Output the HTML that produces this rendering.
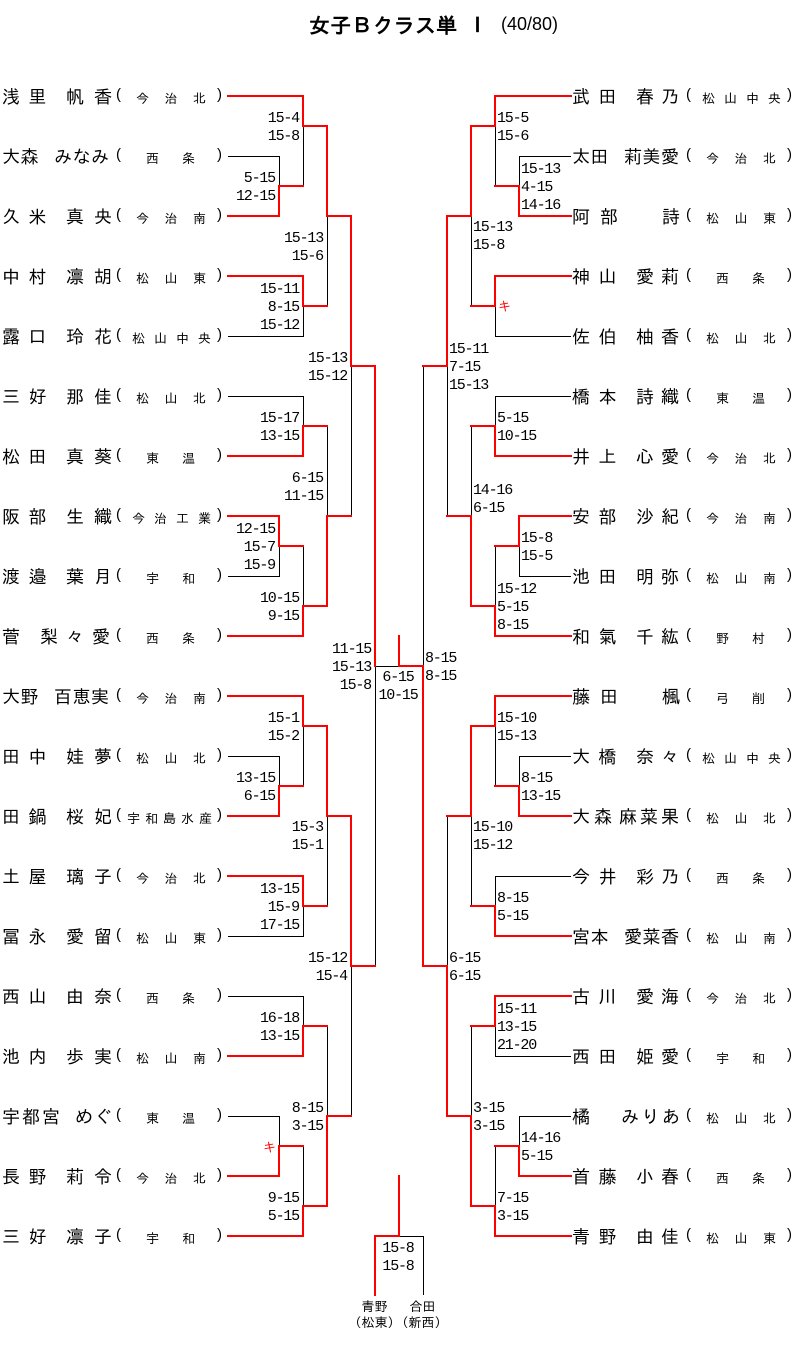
<!DOCTYPE html>
<html lang="ja">
<head>
<meta charset="utf-8">
<style>
html,body{margin:0;padding:0;background:#fff;}
body{width:799px;height:1352px;position:relative;overflow:hidden;font-family:"Liberation Sans","IPAGothic",sans-serif;color:#000;}
svg{position:absolute;left:0;top:0;}
.r{position:absolute;left:0;width:230px;height:18px;}
.R{left:570px;}
.r span{position:absolute;white-space:nowrap;}
.f{left:2px;top:1px;font-size:18px;line-height:18px;letter-spacing:8.5px;}
.g{left:66px;top:1px;font-size:18px;line-height:18px;letter-spacing:10px;}
.R .g{letter-spacing:7px;}
.p1,.p2{top:1px;font-size:15px;line-height:14px;}
.p1{left:116px;}
.p2{left:217px;}
.s{top:4.5px;font-size:13px;line-height:13px;}
.s2{left:146px;letter-spacing:23px;}
.s3{left:136px;letter-spacing:15.5px;}
.s4{left:132px;letter-spacing:9px;}
.s5{left:127px;letter-spacing:5px;}
.l,.m,.c{position:absolute;font-family:"Liberation Mono",monospace;font-size:15px;line-height:18px;letter-spacing:-1.2px;white-space:nowrap;}
.l{text-align:right;}
.m{text-align:left;}
.c{text-align:center;width:60px;}
.k{position:absolute;color:#ff0000;font-size:13px;line-height:13px;}
.b{position:absolute;width:60px;text-align:center;font-size:13px;line-height:13px;white-space:nowrap;}
.t{position:absolute;white-space:nowrap;}
</style>
</head>
<body>

<div class="t" style="left:309px;top:16px;font-size:21px;line-height:21px;font-weight:bold;letter-spacing:0.2px;">女子Ｂクラス単</div>
<div class="t" style="left:467px;top:16px;font-size:21px;line-height:21px;font-weight:bold;">Ⅰ</div>
<div class="t" style="left:501px;top:15px;font-size:18px;line-height:18px;">(40/80)</div>

<svg width="799" height="1352" viewBox="0 0 799 1352" xmlns="http://www.w3.org/2000/svg">
<path fill="none" stroke="#000" stroke-width="1" d="
M228 156.5H280 M228 336.5H304 M228 396.5H304 M228 576.5H280 M228 756.5H280 M228 936.5H304 M228 996.5H304 M228 1116.5H280
M279.5 156V186 M279.5 546V576 M279.5 756V786 M279.5 1116V1146
M303.5 126V186 M303.5 306V336 M303.5 396V426 M303.5 546V606 M303.5 726V786 M303.5 906V936 M303.5 996V1026 M303.5 1146V1206
M327.5 216V306 M327.5 426V516 M327.5 816V906 M327.5 1026V1116
M351.5 366V516 M351.5 966V1116
M375.5 666V966
M375 666.5H399
M519 156.5H571 M495 336.5H571 M495 396.5H571 M519 576.5H571 M519 756.5H571 M495 876.5H571 M495 1056.5H571 M519 1116.5H571
M495.5 126V186 M495.5 306V336 M495.5 396V426 M495.5 546V606 M495.5 726V786 M495.5 876V906 M495.5 1026V1056 M495.5 1146V1206
M519.5 156V186 M519.5 546V576 M519.5 756V786 M519.5 1116V1146
M471.5 216V306 M471.5 426V516 M471.5 816V906 M471.5 1026V1116
M447.5 366V516 M447.5 816V966
M423.5 366V666
M399 1236.5H424 M423.5 1236V1295
"/>
<path fill="none" stroke="#ff0000" stroke-width="2" stroke-linecap="square" d="
M228 96H303 M228 216H279 M228 276H303 M228 456H303 M228 516H279 M228 636H303 M228 696H303 M228 816H279 M228 876H303 M228 1056H303 M228 1176H279 M228 1236H303
M279 186V216 M279 186H303
M303 96V126 M303 126H327
M303 276V306 M303 306H327
M327 126V216 M327 216H351
M303 426V456 M303 426H327
M279 516V546 M279 546H303
M303 606V636 M303 606H327
M327 516V606 M327 516H351
M351 216V366 M351 366H375
M375 366V666
M399 666H423 M399 636V666
M303 696V726 M303 726H327
M279 786V816 M279 786H303
M303 876V906 M303 906H327
M327 726V816 M327 816H351
M303 1026V1056 M303 1026H327
M279 1146V1176 M279 1146H303
M303 1206V1236 M303 1206H327
M327 1116V1206 M327 1116H351
M351 816V966 M351 966H375
M495 96H571 M519 216H571 M495 276H571 M495 456H571 M519 516H571 M495 636H571 M495 696H571 M519 816H571 M495 936H571 M495 996H571 M519 1176H571 M495 1236H571
M495 96V126 M471 126H495
M519 186V216 M495 186H519
M495 276V306 M471 306H495
M471 126V216 M447 216H471
M495 426V456 M471 426H495
M519 516V546 M495 546H519
M495 606V636 M471 606H495
M471 516V606 M447 516H471
M447 216V366 M423 366H447
M423 666V966
M495 696V726 M471 726H495
M519 786V816 M495 786H519
M495 906V936 M471 906H495
M471 726V816 M447 816H471
M495 996V1026 M471 1026H495
M519 1146V1176 M495 1146H519
M495 1206V1236 M471 1206H495
M471 1116V1206 M447 1116H471
M447 966V1116 M423 966H447
M399 1176V1236 M375 1236H399 M375 1236V1295
"/>
</svg>

<!-- Left players -->
<div class="r" style="top:87px"><span class="f">浅里</span><span class="g">帆香</span><span class="p1">(</span><span class="s s3">今治北</span><span class="p2">)</span></div>
<div class="r" style="top:147px"><span class="f" style="letter-spacing:0.5px">大森</span><span class="g" style="left:54px;letter-spacing:0.5px">みなみ</span><span class="p1">(</span><span class="s s2">西条</span><span class="p2">)</span></div>
<div class="r" style="top:207px"><span class="f">久米</span><span class="g">真央</span><span class="p1">(</span><span class="s s3">今治南</span><span class="p2">)</span></div>
<div class="r" style="top:267px"><span class="f">中村</span><span class="g">凛胡</span><span class="p1">(</span><span class="s s3">松山東</span><span class="p2">)</span></div>
<div class="r" style="top:327px"><span class="f">露口</span><span class="g">玲花</span><span class="p1">(</span><span class="s s4">松山中央</span><span class="p2">)</span></div>
<div class="r" style="top:387px"><span class="f">三好</span><span class="g">那佳</span><span class="p1">(</span><span class="s s3">松山北</span><span class="p2">)</span></div>
<div class="r" style="top:447px"><span class="f">松田</span><span class="g">真葵</span><span class="p1">(</span><span class="s s2">東温</span><span class="p2">)</span></div>
<div class="r" style="top:507px"><span class="f">阪部</span><span class="g">生織</span><span class="p1">(</span><span class="s s4">今治工業</span><span class="p2">)</span></div>
<div class="r" style="top:567px"><span class="f">渡邉</span><span class="g">葉月</span><span class="p1">(</span><span class="s s2">宇和</span><span class="p2">)</span></div>
<div class="r" style="top:627px"><span class="f">菅</span><span class="g" style="left:40px;letter-spacing:8px">梨々愛</span><span class="p1">(</span><span class="s s2">西条</span><span class="p2">)</span></div>
<div class="r" style="top:687px"><span class="f" style="letter-spacing:0.5px">大野</span><span class="g" style="left:54px;letter-spacing:0.5px">百恵実</span><span class="p1">(</span><span class="s s3">今治南</span><span class="p2">)</span></div>
<div class="r" style="top:747px"><span class="f">田中</span><span class="g">娃夢</span><span class="p1">(</span><span class="s s3">松山北</span><span class="p2">)</span></div>
<div class="r" style="top:807px"><span class="f">田鍋</span><span class="g">桜妃</span><span class="p1">(</span><span class="s s5">宇和島水産</span><span class="p2">)</span></div>
<div class="r" style="top:867px"><span class="f">土屋</span><span class="g">璃子</span><span class="p1">(</span><span class="s s3">今治北</span><span class="p2">)</span></div>
<div class="r" style="top:927px"><span class="f">冨永</span><span class="g">愛留</span><span class="p1">(</span><span class="s s3">松山東</span><span class="p2">)</span></div>
<div class="r" style="top:987px"><span class="f">西山</span><span class="g">由奈</span><span class="p1">(</span><span class="s s2">西条</span><span class="p2">)</span></div>
<div class="r" style="top:1047px"><span class="f">池内</span><span class="g">歩実</span><span class="p1">(</span><span class="s s3">松山南</span><span class="p2">)</span></div>
<div class="r" style="top:1107px"><span class="f" style="letter-spacing:2px">宇都宮</span><span class="g" style="left:75px;letter-spacing:1px">めぐ</span><span class="p1">(</span><span class="s s2">東温</span><span class="p2">)</span></div>
<div class="r" style="top:1167px"><span class="f">長野</span><span class="g">莉令</span><span class="p1">(</span><span class="s s3">今治北</span><span class="p2">)</span></div>
<div class="r" style="top:1227px"><span class="f">三好</span><span class="g">凛子</span><span class="p1">(</span><span class="s s2">宇和</span><span class="p2">)</span></div>

<!-- Right players -->
<div class="r R" style="top:87px"><span class="f">武田</span><span class="g">春乃</span><span class="p1">(</span><span class="s s4">松山中央</span><span class="p2">)</span></div>
<div class="r R" style="top:147px"><span class="f" style="letter-spacing:0.5px">太田</span><span class="g" style="left:54px;letter-spacing:0.5px">莉美愛</span><span class="p1">(</span><span class="s s3">今治北</span><span class="p2">)</span></div>
<div class="r R" style="top:207px"><span class="f" style="letter-spacing:10px">阿部</span><span class="g" style="left:92px">詩</span><span class="p1">(</span><span class="s s3">松山東</span><span class="p2">)</span></div>
<div class="r R" style="top:267px"><span class="f">神山</span><span class="g">愛莉</span><span class="p1">(</span><span class="s s2">西条</span><span class="p2">)</span></div>
<div class="r R" style="top:327px"><span class="f">佐伯</span><span class="g">柚香</span><span class="p1">(</span><span class="s s3">松山北</span><span class="p2">)</span></div>
<div class="r R" style="top:387px"><span class="f">橋本</span><span class="g">詩織</span><span class="p1">(</span><span class="s s2">東温</span><span class="p2">)</span></div>
<div class="r R" style="top:447px"><span class="f">井上</span><span class="g">心愛</span><span class="p1">(</span><span class="s s3">今治北</span><span class="p2">)</span></div>
<div class="r R" style="top:507px"><span class="f">安部</span><span class="g">沙紀</span><span class="p1">(</span><span class="s s3">今治南</span><span class="p2">)</span></div>
<div class="r R" style="top:567px"><span class="f">池田</span><span class="g">明弥</span><span class="p1">(</span><span class="s s3">松山南</span><span class="p2">)</span></div>
<div class="r R" style="top:627px"><span class="f">和氣</span><span class="g">千紘</span><span class="p1">(</span><span class="s s2">野村</span><span class="p2">)</span></div>
<div class="r R" style="top:687px"><span class="f" style="letter-spacing:10px">藤田</span><span class="g" style="left:92px">楓</span><span class="p1">(</span><span class="s s2">弓削</span><span class="p2">)</span></div>
<div class="r R" style="top:747px"><span class="f">大橋</span><span class="g">奈々</span><span class="p1">(</span><span class="s s4">松山中央</span><span class="p2">)</span></div>
<div class="r R" style="top:807px"><span class="f" style="letter-spacing:4px">大森</span><span class="g" style="left:49px;letter-spacing:3px">麻菜果</span><span class="p1">(</span><span class="s s3">松山北</span><span class="p2">)</span></div>
<div class="r R" style="top:867px"><span class="f">今井</span><span class="g">彩乃</span><span class="p1">(</span><span class="s s2">西条</span><span class="p2">)</span></div>
<div class="r R" style="top:927px"><span class="f" style="letter-spacing:0.5px">宮本</span><span class="g" style="left:54px;letter-spacing:0.5px">愛菜香</span><span class="p1">(</span><span class="s s3">松山南</span><span class="p2">)</span></div>
<div class="r R" style="top:987px"><span class="f">古川</span><span class="g">愛海</span><span class="p1">(</span><span class="s s3">今治北</span><span class="p2">)</span></div>
<div class="r R" style="top:1047px"><span class="f">西田</span><span class="g">姫愛</span><span class="p1">(</span><span class="s s2">宇和</span><span class="p2">)</span></div>
<div class="r R" style="top:1107px"><span class="f">橘</span><span class="g" style="left:51px;letter-spacing:2.5px">みりあ</span><span class="p1">(</span><span class="s s3">松山北</span><span class="p2">)</span></div>
<div class="r R" style="top:1167px"><span class="f">首藤</span><span class="g">小春</span><span class="p1">(</span><span class="s s2">西条</span><span class="p2">)</span></div>
<div class="r R" style="top:1227px"><span class="f">青野</span><span class="g">由佳</span><span class="p1">(</span><span class="s s3">松山東</span><span class="p2">)</span></div>

<!-- Left scores -->
<div class="l" style="right:500px;top:110px">15-4<br>15-8</div>
<div class="l" style="right:524px;top:170px">5-15<br>12-15</div>
<div class="l" style="right:476px;top:230px">15-13<br>15-6</div>
<div class="l" style="right:500px;top:281px">15-11<br>8-15<br>15-12</div>
<div class="l" style="right:452px;top:350px">15-13<br>15-12</div>
<div class="l" style="right:500px;top:410px">15-17<br>13-15</div>
<div class="l" style="right:476px;top:470px">6-15<br>11-15</div>
<div class="l" style="right:524px;top:521px">12-15<br>15-7<br>15-9</div>
<div class="l" style="right:500px;top:590px">10-15<br>9-15</div>
<div class="l" style="right:428px;top:641px">11-15<br>15-13<br>15-8</div>
<div class="l" style="right:500px;top:710px">15-1<br>15-2</div>
<div class="l" style="right:524px;top:770px">13-15<br>6-15</div>
<div class="l" style="right:476px;top:819px">15-3<br>15-1</div>
<div class="l" style="right:500px;top:881px">13-15<br>15-9<br>17-15</div>
<div class="l" style="right:452px;top:950px">15-12<br>15-4</div>
<div class="l" style="right:500px;top:1010px">16-18<br>13-15</div>
<div class="l" style="right:476px;top:1100px">8-15<br>3-15</div>
<div class="l" style="right:500px;top:1190px">9-15<br>5-15</div>

<!-- Right scores -->
<div class="m" style="left:497px;top:110px">15-5<br>15-6</div>
<div class="m" style="left:521px;top:161px">15-13<br>4-15<br>14-16</div>
<div class="m" style="left:473px;top:219px">15-13<br>15-8</div>
<div class="m" style="left:449px;top:341px">15-11<br>7-15<br>15-13</div>
<div class="m" style="left:497px;top:410px">5-15<br>10-15</div>
<div class="m" style="left:473px;top:482px">14-16<br>6-15</div>
<div class="m" style="left:521px;top:530px">15-8<br>15-5</div>
<div class="m" style="left:497px;top:581px">15-12<br>5-15<br>8-15</div>
<div class="m" style="left:425px;top:650px">8-15<br>8-15</div>
<div class="m" style="left:497px;top:710px">15-10<br>15-13</div>
<div class="m" style="left:521px;top:770px">8-15<br>13-15</div>
<div class="m" style="left:473px;top:819px">15-10<br>15-12</div>
<div class="m" style="left:497px;top:890px">8-15<br>5-15</div>
<div class="m" style="left:449px;top:950px">6-15<br>6-15</div>
<div class="m" style="left:497px;top:1001px">15-11<br>13-15<br>21-20</div>
<div class="m" style="left:473px;top:1100px">3-15<br>3-15</div>
<div class="m" style="left:521px;top:1130px">14-16<br>5-15</div>
<div class="m" style="left:497px;top:1190px">7-15<br>3-15</div>

<!-- Final & third place scores -->
<div class="c" style="left:368px;top:669px">6-15<br>10-15</div>
<div class="c" style="left:368px;top:1240px">15-8<br>15-8</div>

<!-- Forfeit marks -->
<div class="k" style="left:263px;top:1141px">キ</div>
<div class="k" style="left:498px;top:300px">キ</div>

<!-- Bottom names -->
<div class="b" style="left:344.5px;top:1300px">青野</div>
<div class="b" style="left:344.5px;top:1316px">（松東）</div>
<div class="b" style="left:392.5px;top:1300px">合田</div>
<div class="b" style="left:391.5px;top:1316px">（新西）</div>

</body>
</html>
